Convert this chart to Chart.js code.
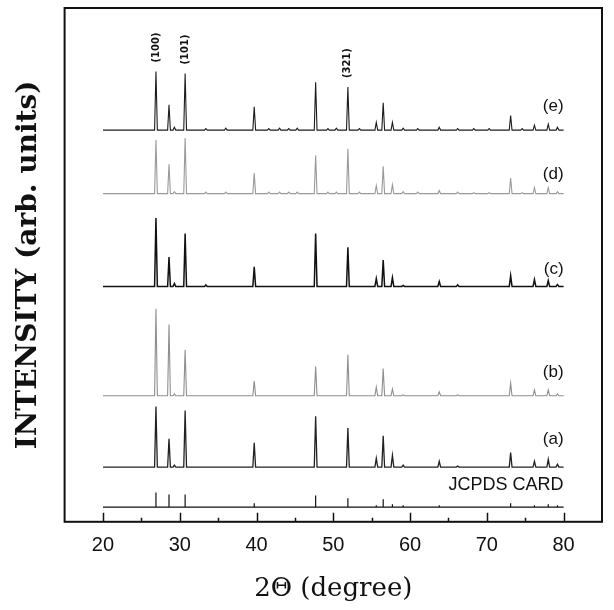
<!DOCTYPE html>
<html>
<head>
<meta charset="utf-8">
<script src="https://cdn.jsdelivr.net/npm/chart.js@4.4.0/dist/chart.umd.min.js"></script>
<style>
    html, body { margin: 0; padding: 0; background: #fff; }
    #wrap { width: 614px; height: 610px; }
</style>
</head>
<body>
<div id="wrap"><canvas id="xrd"></canvas></div>
<script>
// peak positions (2theta) shared by all patterns
const PEAK_POS = [26.9, 28.6, 29.3, 30.7, 33.4, 36.0, 39.7, 41.6, 43.0, 44.2, 45.3, 47.7, 49.3, 50.4, 51.9,
    53.4, 55.6, 56.5, 57.7, 59.1, 61.0, 63.8, 66.2, 68.3, 70.3, 73.1, 74.6, 76.2, 78.0, 79.2];

// peak heights (arb. units)
const E_HEIGHTS = [60, 26, 3, 58, 1.5, 2, 24, 1.5, 2, 1.5, 2, 49, 1.5, 2, 44, 1.5, 8, 28, 8, 2, 1.5, 3, 1.5, 1.5, 1.5, 15, 1.5, 5, 6, 3];
const D_HEIGHTS = [55, 30, 2, 57, 1.5, 1.5, 21, 1.5, 1.5, 1.5, 1.5, 39, 1.5, 1.5, 46, 1.5, 8, 28, 9, 2, 1.5, 3, 1.5, 1, 1, 16, 1, 6, 6, 2];
const C_HEIGHTS = [70, 30, 3, 54, 1.5, 0, 20, 0, 0, 0, 0, 54, 0, 0, 40, 0, 8, 27, 9, 1, 0, 5, 1.5, 0, 0, 11, 0, 7, 6, 2];
const B_HEIGHTS = [89, 73, 2, 47, 0, 0, 15, 0, 0, 0, 0, 30, 0, 0, 42, 0, 9, 28, 7, 1, 0, 4, 1, 0, 0, 13, 0, 6, 6, 2];
const A_HEIGHTS = [62, 29, 2, 58, 0, 0, 25, 0, 0, 0, 0, 52, 0, 0, 40, 0, 9, 32, 12, 2, 0, 6, 1, 0, 0, 15, 0, 6, 8, 3];
const CARD_HEIGHTS = [15, 13, 0, 13, 0, 0, 4, 0, 0, 0, 0, 12, 0, 0, 9, 0, 2, 8, 3, 2, 0, 2, 0, 0, 0, 4, 0, 2, 3, 2];

// vertical offset of each pattern's baseline
const SERIES_NAMES = ["(e)", "(d)", "(c)", "(b)", "(a)", "JCPDS CARD"];
const SERIES_OFFSETS = [401, 336, 241, 129, 56, 15];
const SERIES_HEIGHTS = [E_HEIGHTS, D_HEIGHTS, C_HEIGHTS, B_HEIGHTS, A_HEIGHTS, CARD_HEIGHTS];

const SCAN_START = 20;
const SCAN_END = 80;

// miller indices marked over pattern (e)
const HKL_LABELS = ["(100)", "(101)", "(321)"];
const HKL_PEAKS = [0, 3, 14];

const X_TICKS = [20, 30, 40, 50, 60, 70, 80];
const X_MINOR_TICKS = [25, 35, 45, 55, 65, 75];

const SERIES_COLORS = ["#1c1c1c", "#9a9a9a", "#111111", "#8e8e8e", "#222222", "#111111"];
const SERIES_WIDTHS = [1.1, 1.1, 1.5, 1.1, 1.3, 1.2];
const LABEL_LIFT = [24, 20, 17, 24, 28, 23];

function buildPattern(heights, base, halfWidth) {
    const pts = [{ x: SCAN_START, y: base }];
    PEAK_POS.forEach((pos, i) => {
        const h = heights[i];
        if (!h) return;
        pts.push({ x: pos - halfWidth, y: base });
        pts.push({ x: pos, y: base + h });
        pts.push({ x: pos + halfWidth, y: base });
    });
    pts.push({ x: SCAN_END, y: base });
    return pts;
}

const datasets = SERIES_NAMES.map((name, i) => ({
    label: name,
    data: buildPattern(SERIES_HEIGHTS[i], SERIES_OFFSETS[i], i === 5 ? 0 : 0.18),
    borderColor: SERIES_COLORS[i],
    borderWidth: SERIES_WIDTHS[i],
    pointRadius: 0,
    tension: 0,
    fill: false
}));

const frameAndLabels = {
    id: "frameAndLabels",
    afterDraw(chart) {
        const { ctx, chartArea: area } = chart;
        const xs = chart.scales.x;
        const ys = chart.scales.y;
        ctx.save();

        ctx.strokeStyle = "#111";
        ctx.lineWidth = 2;
        ctx.strokeRect(area.left, area.top, area.right - area.left, area.bottom - area.top);

        // inward ticks on the bottom axis
        ctx.lineWidth = 1.5;
        ctx.beginPath();
        X_TICKS.forEach(v => {
            const x = Math.round(xs.getPixelForValue(v)) + 0.5;
            ctx.moveTo(x, area.bottom);
            ctx.lineTo(x, area.bottom - 9);
        });
        X_MINOR_TICKS.forEach(v => {
            const x = Math.round(xs.getPixelForValue(v)) + 0.5;
            ctx.moveTo(x, area.bottom);
            ctx.lineTo(x, area.bottom - 4);
        });
        ctx.stroke();

        // pattern names
        ctx.fillStyle = "#111";
        ctx.textAlign = "right";
        ctx.textBaseline = "middle";
        SERIES_NAMES.forEach((name, i) => {
            const isCard = i === 5;
            ctx.font = isCard ? "18px 'Liberation Sans', Arial, sans-serif" : "17px 'Liberation Sans', Arial, sans-serif";
            ctx.fillText(name, xs.getPixelForValue(SCAN_END), ys.getPixelForValue(SERIES_OFFSETS[i] + LABEL_LIFT[i]));
        });

        // hkl labels, rotated
        ctx.font = "bold 10px 'DejaVu Sans', sans-serif";
        ctx.textAlign = "left";
        HKL_LABELS.forEach((txt, i) => {
            const idx = HKL_PEAKS[i];
            const x = xs.getPixelForValue(PEAK_POS[idx]);
            const y = ys.getPixelForValue(SERIES_OFFSETS[0] + E_HEIGHTS[idx]) - 9;
            ctx.save();
            ctx.translate(x, y);
            ctx.rotate(-Math.PI / 2);
            ctx.fillText(txt, 0, 0);
            ctx.restore();
        });

        ctx.restore();
    }
};

new Chart(document.getElementById("xrd"), {
    type: "line",
    data: { datasets },
    options: {
        responsive: true,
        maintainAspectRatio: false,
        animation: false,
        devicePixelRatio: 1,
        layout: { padding: { left: 0, right: 3, top: 8, bottom: 1 } },
        plugins: { legend: { display: false }, tooltip: { enabled: false } },
        scales: {
            x: {
                type: "linear",
                min: 15,
                max: 85,
                grid: { display: false, drawTicks: false },
                border: { display: false },
                ticks: {
                    stepSize: 5,
                    autoSkip: false,
                    maxRotation: 0,
                    padding: 12,
                    color: "#111",
                    font: { family: "'Liberation Sans', Arial, sans-serif", size: 20 },
                    callback: v => X_TICKS.includes(v) ? String(v) : ""
                },
                title: {
                    display: true,
                    text: "2Θ (degree)",
                    color: "#111",
                    padding: { top: 4, bottom: 4 },
                    font: { family: "'DejaVu Serif', serif", size: 26 }
                }
            },
            y: {
                type: "linear",
                min: 0,
                max: 526,
                grid: { display: false, drawTicks: false },
                border: { display: false },
                ticks: { display: false },
                title: {
                    display: true,
                    text: "INTENSITY (arb. units)",
                    color: "#111",
                    padding: { top: 12, bottom: 19 },
                    font: { family: "'DejaVu Serif', serif", size: 28, weight: "bold" }
                }
            }
        }
    },
    plugins: [frameAndLabels]
});
</script>
</body>
</html>
